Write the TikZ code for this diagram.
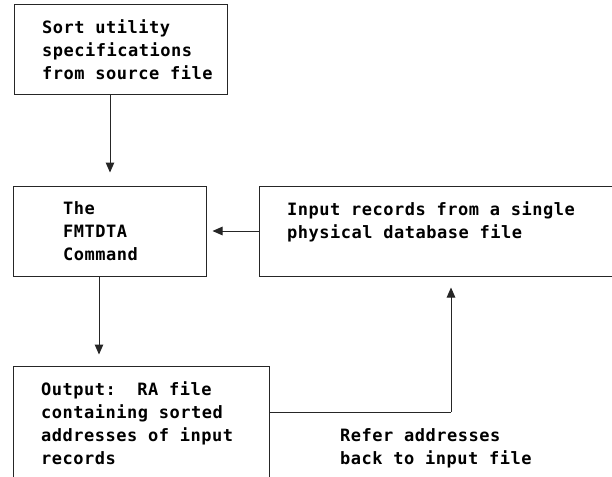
\documentclass[tikz,border=0pt]{standalone}
\usepackage{fontspec}
\newfontfamily\diafont[LetterSpace=3]{DejaVu Sans Mono}
\usetikzlibrary{arrows.meta}
\begin{document}
\begin{tikzpicture}[x=1pt,y=-1pt,
  box/.style={draw=black!85, line width=1pt, rectangle, inner sep=0pt},
  txt/.style={anchor=north west, inner sep=0pt, align=left,
    font=\diafont\bfseries\fontsize{17}{23}\selectfont},
  arr/.style={draw=black!85, line width=1pt, -{Triangle[length=10pt,width=8.5pt]}},
  conn/.style={draw=black!85, line width=1pt}]
\clip (0,0) rectangle (612,476);
\fill[white] (0,0) rectangle (612,476);
% boxes
\node[box, minimum width=213pt, minimum height=90pt] (b1) at (120.5,50) {};
\node[box, minimum width=193pt, minimum height=90pt] (b2) at (109.5,231) {};
\node[box, minimum width=381pt, minimum height=90pt] (b3) at (449.5,231) {};
\node[box, minimum width=256pt, minimum height=134pt] (b4) at (141,433) {};
% texts (first baseline = top + 14)
\node[txt] (t1) at (42,19.5) {\rule{0pt}{14pt}Sort utility\\specifications\\from source file};
\node[txt] (t2) at (63,200) {\rule{0pt}{14pt}The\\FMTDTA\\Command};
\node[txt] (t3) at (287,201) {\rule{0pt}{14pt}Input records from a single\\physical database file};
\node[txt] (t4) at (41,381) {\rule{0pt}{14pt}Output:\ \ RA file\\containing sorted\\addresses of input\\records};
\node[txt] (t5) at (340,427.5) {\rule{0pt}{14pt}Refer addresses\\back to input file};
% helper coordinates
\coordinate (x1) at (110,0);
\coordinate (x2) at (99,0);
\coordinate (x3) at (451,0);
\coordinate (y3) at (0,412);
% connectors
\draw[arr, shorten >=13pt] (b1.south -| x1) -- (b2.north -| x1);
\draw[arr, shorten >=6pt] (b3.west) -- (b2.east);
\draw[arr, shorten >=11pt] (b2.south -| x2) -- (b4.north -| x2);
\draw[conn] (b4.east |- y3) -- (x3 |- y3) coordinate (c1);
\draw[arr, shorten >=11pt] (c1) -- (b3.south -| x3);
\end{tikzpicture}
\end{document}
